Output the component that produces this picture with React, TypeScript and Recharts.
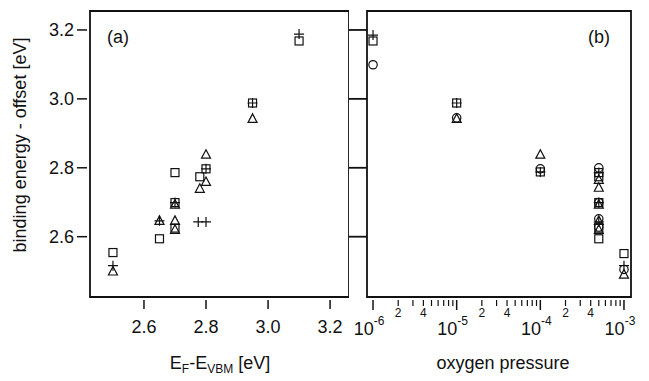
import { ScatterChart, Scatter, XAxis, YAxis, ReferenceArea, Label } from 'recharts'

// panel (a): E_F - E_VBM [eV] vs binding energy - offset [eV]
const SQUARES_A: [number, number][] = [
  [3.1, 3.168], [2.95, 2.988], [2.8, 2.797], [2.78, 2.774], [2.7, 2.786],
  [2.7, 2.699], [2.7, 2.625], [2.65, 2.594], [2.5, 2.554],
]
const PLUSES_A: [number, number][] = [
  [3.1, 3.188], [2.95, 2.988], [2.8, 2.797], [2.7, 2.699], [2.65, 2.646],
  [2.775, 2.643], [2.8, 2.643], [2.5, 2.516],
]
const TRIANGLES_A: [number, number][] = [
  [2.95, 2.942], [2.8, 2.838], [2.8, 2.759], [2.78, 2.739], [2.7, 2.693],
  [2.65, 2.646], [2.7, 2.646], [2.7, 2.62], [2.5, 2.499],
]

// panel (b): oxygen pressure vs binding energy - offset [eV]
const SQUARES_B: [number, number][] = [
  [1e-6, 3.168], [1e-5, 2.988], [1e-4, 2.788], [5e-4, 2.786], [5e-4, 2.774],
  [5e-4, 2.699], [5e-4, 2.625], [5e-4, 2.594], [1e-3, 2.551],
]
const PLUSES_B: [number, number][] = [
  [1e-6, 3.185], [1e-5, 2.988], [1e-4, 2.788], [5e-4, 2.786], [5e-4, 2.699],
  [5e-4, 2.643], [1e-3, 2.516],
]
const TRIANGLES_B: [number, number][] = [
  [1e-5, 2.942], [1e-4, 2.838], [5e-4, 2.765], [5e-4, 2.742], [5e-4, 2.693],
  [5e-4, 2.646], [5e-4, 2.62], [1e-3, 2.49],
]
const CIRCLES_B: [number, number][] = [
  [1e-6, 3.099], [1e-5, 2.945], [1e-4, 2.797], [5e-4, 2.8], [5e-4, 2.699],
  [5e-4, 2.652], [5e-4, 2.628], [1e-3, 2.505],
]

const ENERGY_TICKS = [2.6, 2.8, 3.0, 3.2]
const BINDING_TICKS = [2.6, 2.8, 3.0, 3.2]
const PRESSURE_TICKS = [
  1e-6, 2e-6, 3e-6, 4e-6, 5e-6, 6e-6, 7e-6, 8e-6, 9e-6,
  1e-5, 2e-5, 3e-5, 4e-5, 5e-5, 6e-5, 7e-5, 8e-5, 9e-5,
  1e-4, 2e-4, 3e-4, 4e-4, 5e-4, 6e-4, 7e-4, 8e-4, 9e-4,
  1e-3,
]

const X_DOMAIN_A: [number, number] = [2.426, 3.261]
const X_DOMAIN_B: [number, number] = [Math.pow(10, -6.072), Math.pow(10, -2.916)]
const Y_DOMAIN: [number, number] = [2.425, 3.255]

const FONT = '"Liberation Sans", Arial, Helvetica, sans-serif'
const INK = '#111'

const toPoints = (rows: [number, number][]) => rows.map(([x, y]) => ({ x, y }))

function marker(kind: string) {
  return (props: any) => {
    const { cx, cy } = props
    if (cx == null || cy == null) return <g />
    const common = { fill: 'none', stroke: INK, strokeWidth: 1.2 }
    if (kind === 'square') return <rect x={cx - 4} y={cy - 4} width={8} height={8} {...common} />
    if (kind === 'triangle')
      return <polygon points={`${cx},${cy - 5} ${cx - 4.5},${cy + 3.5} ${cx + 4.5},${cy + 3.5}`} {...common} />
    if (kind === 'circle') return <circle cx={cx} cy={cy} r={4.2} {...common} />
    return (
      <path d={`M${cx - 5},${cy}H${cx + 5}M${cx},${cy - 5}V${cy + 5}`} {...common} />
    )
  }
}

const EnergyTick = (p: any) => {
  const { x, y, payload } = p
  return (
    <g>
      <line x1={x} x2={x} y1={y + 3} y2={y + 12} stroke={INK} strokeWidth={1.5} />
      <text x={x} y={y + 36} textAnchor="middle" fontSize={18} fontFamily={FONT} fill={INK}>
        {Number(payload.value).toFixed(1)}
      </text>
    </g>
  )
}

const BindingTick = (p: any) => {
  const { x, y, payload } = p
  return (
    <g>
      <line x1={x - 3} x2={x - 13} y1={y} y2={y} stroke={INK} strokeWidth={1.5} />
      <text x={x - 16} y={y + 6.5} textAnchor="end" fontSize={18} fontFamily={FONT} fill={INK}>
        {Number(payload.value).toFixed(1)}
      </text>
    </g>
  )
}

const PressureTick = (p: any) => {
  const { x, y, payload } = p
  const v = Number(payload.value)
  const exp = Math.floor(Math.log10(v) + 1e-9)
  const mant = Math.round(v / Math.pow(10, exp))
  if (mant === 1) {
    return (
      <g>
        <line x1={x} x2={x} y1={y + 3} y2={y + 13} stroke={INK} strokeWidth={1.5} />
        <text x={x - 4} y={y + 38} textAnchor="middle" fontSize={18} fontFamily={FONT} fill={INK}>
          10
          <tspan fontSize={12} dy={-10}>{exp}</tspan>
        </text>
      </g>
    )
  }
  return (
    <g>
      <line x1={x} x2={x} y1={y + 3} y2={y + 9} stroke={INK} strokeWidth={1.2} />
      {(mant === 2 || mant === 4) && (
        <text x={x} y={y + 20} textAnchor="middle" fontSize={12} fontFamily={FONT} fill={INK}>
          {mant}
        </text>
      )}
    </g>
  )
}

const EmptyTick = () => <g />

const EnergyTitle = () => (
  <text x={220} y={369} textAnchor="middle" fontSize={18} fontFamily={FONT} fill={INK}>
    E<tspan fontSize={12} dy={4}>F</tspan>
    <tspan dy={-4}>-E</tspan>
    <tspan fontSize={12} dy={4}>VBM</tspan>
    <tspan dy={-4}> [eV]</tspan>
  </text>
)

const PressureTitle = () => (
  <text x={154} y={369} textAnchor="middle" fontSize={18} fontFamily={FONT} fill={INK}>
    oxygen pressure
  </text>
)

const BindingTitle = () => (
  <text
    x={26}
    y={145}
    textAnchor="middle"
    fontSize={18}
    fontFamily={FONT}
    fill={INK}
    transform="rotate(-90 26 145)"
  >
    binding energy - offset [eV]
  </text>
)

const PanelTag = (text: string, dx: number) => (props: any) => {
  const vb = props.viewBox || {}
  return (
    <text x={vb.x + dx} y={vb.y + 32} fontSize={18} fontFamily={FONT} fill={INK}>
      {text}
    </text>
  )
}

export default function App() {
  return (
    <div style={{ position: 'absolute', left: 0, top: 0, width: 649, height: 381, background: '#fff' }}>
      <div style={{ position: 'absolute', left: 0, top: 0 }}>
        <ScatterChart width={349} height={381} margin={{ top: 11, right: 0, bottom: 0, left: 0 }}>
          <XAxis
            dataKey="x"
            type="number"
            domain={X_DOMAIN_A}
            ticks={ENERGY_TICKS}
            allowDataOverflow
            height={84}
            axisLine={false}
            tickLine={false}
            tickSize={0}
            tickMargin={0}
            tick={EnergyTick}
            interval={0}
          >
            <Label content={EnergyTitle} />
          </XAxis>
          <YAxis
            dataKey="y"
            type="number"
            domain={Y_DOMAIN}
            ticks={BINDING_TICKS}
            allowDataOverflow
            width={90}
            axisLine={false}
            tickLine={false}
            tickSize={0}
            tickMargin={0}
            tick={BindingTick}
            interval={0}
          >
            <Label content={BindingTitle} />
          </YAxis>
          <ReferenceArea
            x1={X_DOMAIN_A[0]}
            x2={X_DOMAIN_A[1]}
            y1={Y_DOMAIN[0]}
            y2={Y_DOMAIN[1]}
            fill="none"
            stroke={INK}
            strokeWidth={1.8}
            label={PanelTag('(a)', 17)}
          />
          <Scatter data={toPoints(SQUARES_A)} shape={marker('square')} isAnimationActive={false} />
          <Scatter data={toPoints(PLUSES_A)} shape={marker('plus')} isAnimationActive={false} />
          <Scatter data={toPoints(TRIANGLES_A)} shape={marker('triangle')} isAnimationActive={false} />
        </ScatterChart>
      </div>
      <div style={{ position: 'absolute', left: 349, top: 0 }}>
        <ScatterChart width={300} height={381} margin={{ top: 11, right: 18, bottom: 0, left: 0 }}>
          <XAxis
            dataKey="x"
            type="number"
            scale="log"
            domain={X_DOMAIN_B}
            ticks={PRESSURE_TICKS}
            allowDataOverflow
            height={84}
            axisLine={false}
            tickLine={false}
            tickSize={0}
            tickMargin={0}
            tick={PressureTick}
            interval={0}
          >
            <Label content={PressureTitle} />
          </XAxis>
          <YAxis
            dataKey="y"
            type="number"
            domain={Y_DOMAIN}
            ticks={BINDING_TICKS}
            allowDataOverflow
            width={18}
            axisLine={false}
            tickLine={{ stroke: INK, strokeWidth: 1.8 }}
            tickSize={18}
            tick={EmptyTick}
            interval={0}
          />
          <ReferenceArea
            x1={X_DOMAIN_B[0]}
            x2={X_DOMAIN_B[1]}
            y1={Y_DOMAIN[0]}
            y2={Y_DOMAIN[1]}
            fill="none"
            stroke={INK}
            strokeWidth={1.8}
            label={PanelTag('(b)', 221)}
          />
          <Scatter data={toPoints(SQUARES_B)} shape={marker('square')} isAnimationActive={false} />
          <Scatter data={toPoints(PLUSES_B)} shape={marker('plus')} isAnimationActive={false} />
          <Scatter data={toPoints(TRIANGLES_B)} shape={marker('triangle')} isAnimationActive={false} />
          <Scatter data={toPoints(CIRCLES_B)} shape={marker('circle')} isAnimationActive={false} />
        </ScatterChart>
      </div>
    </div>
  )
}
